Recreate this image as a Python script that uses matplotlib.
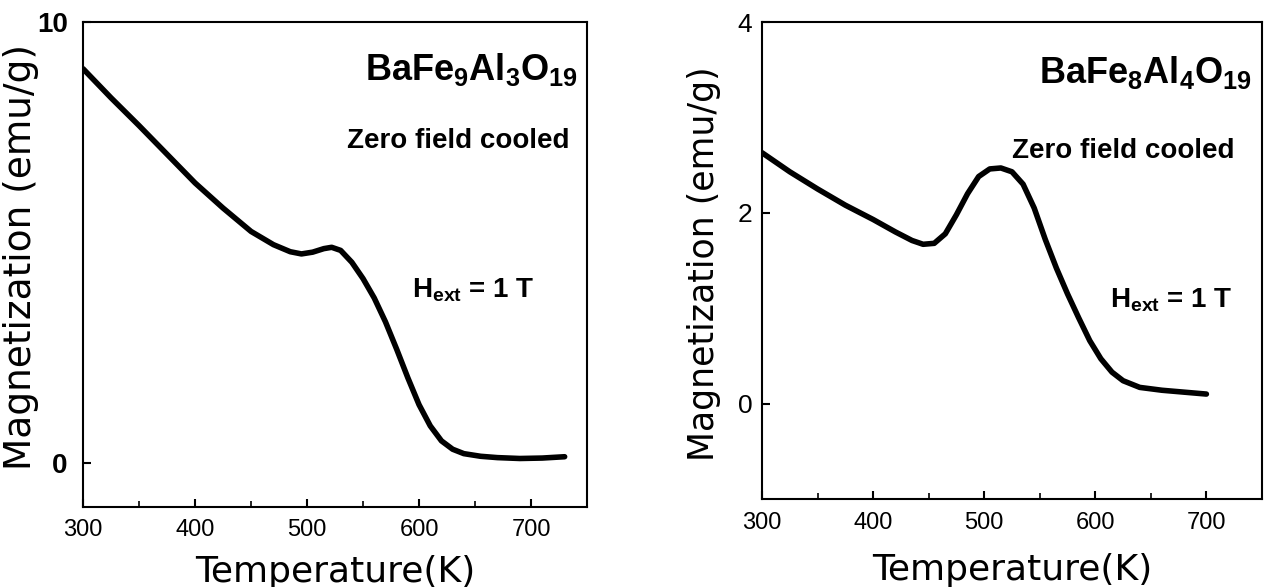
import matplotlib
matplotlib.use('Agg')
import matplotlib.pyplot as plt
from matplotlib.ticker import MultipleLocator

plt.rcParams['font.family'] = ['Liberation Sans', 'DejaVu Sans']
plt.rcParams['mathtext.fontset'] = 'custom'
plt.rcParams['mathtext.rm'] = 'Liberation Sans:bold'
plt.rcParams['mathtext.it'] = 'Liberation Sans:bold'
plt.rcParams['mathtext.bf'] = 'Liberation Sans:bold'

# BaFe9Al3O19, zero field cooled
temp_a = [300, 325, 350, 375, 400, 425, 450, 470, 485, 495, 505, 515, 522, 530,
          540, 550, 560, 570, 580, 590, 600, 610, 620, 630, 640, 655, 670, 690, 710, 730]
mag_a = [8.94, 8.28, 7.65, 7.00, 6.35, 5.78, 5.25, 4.95, 4.79, 4.74, 4.78, 4.86, 4.89, 4.82,
         4.55, 4.18, 3.74, 3.20, 2.58, 1.93, 1.32, 0.84, 0.50, 0.31, 0.21, 0.15, 0.12, 0.10, 0.11, 0.14]

# BaFe8Al4O19, zero field cooled
temp_b = [300, 325, 350, 375, 400, 420, 435, 445, 455, 465, 475, 485, 495, 505, 515,
          525, 535, 545, 555, 565, 575, 585, 595, 605, 615, 625, 640, 660, 680, 700]
mag_b = [2.63, 2.43, 2.25, 2.08, 1.93, 1.80, 1.71, 1.67, 1.68, 1.78, 1.98, 2.20, 2.38, 2.46, 2.47,
         2.43, 2.30, 2.05, 1.72, 1.42, 1.15, 0.90, 0.66, 0.47, 0.33, 0.24, 0.17, 0.14, 0.12, 0.10]

fig = plt.figure(figsize=(12.66, 5.87), dpi=100)
ax1 = fig.add_axes([0.0656, 0.1363, 0.3981, 0.8262])
ax2 = fig.add_axes([0.6019, 0.1499, 0.3949, 0.8126])


def style(ax):
    for s in ax.spines.values():
        s.set_linewidth(1.5)
    ax.tick_params(direction='in', which='major', length=6, width=1.5, top=False, right=False)
    ax.tick_params(direction='in', which='minor', length=4, width=1.2, top=False, right=False)
    ax.tick_params(axis='x', labelsize=17, pad=9)
    ax.xaxis.set_major_locator(MultipleLocator(100))
    ax.xaxis.set_minor_locator(MultipleLocator(50))
    ax.set_xlim(300, 750)


# left panel
ax1.plot(temp_a, mag_a, color='black', lw=4, solid_capstyle='round')
ax1.set_ylim(-1, 10)
ax1.set_yticks([0, 10])
style(ax1)
ax1.tick_params(axis='y', labelsize=20, pad=11)
for lab in ax1.get_yticklabels():
    lab.set_fontweight('bold')
ax1.set_xlabel('Temperature(K)', fontsize=26, family='DejaVu Sans', va='baseline')
ax1.xaxis.set_label_coords(0.5, -0.155)
ax1.set_ylabel('Magnetization (emu/g)', fontsize=27, family='DejaVu Sans', va='center')
ax1.yaxis.set_label_coords(-0.124, 0.515)
ax1.text(0.982, 0.880, r'$\mathrm{BaFe_9Al_3O_{19}}$', transform=ax1.transAxes,
         fontsize=26, ha='right', va='baseline')
ax1.text(0.966, 0.740, 'Zero field cooled', transform=ax1.transAxes,
         fontsize=20, fontweight='bold', ha='right', va='baseline')
ax1.text(0.653, 0.431, r'H$_{\mathrm{ext}}$ = 1 T', transform=ax1.transAxes,
         fontsize=20, fontweight='bold', ha='left', va='baseline')

# right panel
ax2.plot(temp_b, mag_b, color='black', lw=4, solid_capstyle='round')
ax2.set_ylim(-1, 4)
ax2.set_yticks([0, 2, 4])
style(ax2)
ax2.tick_params(axis='y', labelsize=19, pad=7)
ax2.set_xlabel('Temperature(K)', fontsize=26, family='DejaVu Sans', va='baseline')
ax2.xaxis.set_label_coords(0.5, -0.17)
ax2.set_ylabel('Magnetization (emu/g)', fontsize=25, family='DejaVu Sans', va='center')
ax2.yaxis.set_label_coords(-0.116, 0.493)
ax2.text(0.98, 0.872, r'$\mathrm{BaFe_8Al_4O_{19}}$', transform=ax2.transAxes,
         fontsize=26, ha='right', va='baseline')
ax2.text(0.946, 0.715, 'Zero field cooled', transform=ax2.transAxes,
         fontsize=20, fontweight='bold', ha='right', va='baseline')
ax2.text(0.696, 0.4025, r'H$_{\mathrm{ext}}$ = 1 T', transform=ax2.transAxes,
         fontsize=20, fontweight='bold', ha='left', va='baseline')

fig.savefig('out.png', dpi=100)
